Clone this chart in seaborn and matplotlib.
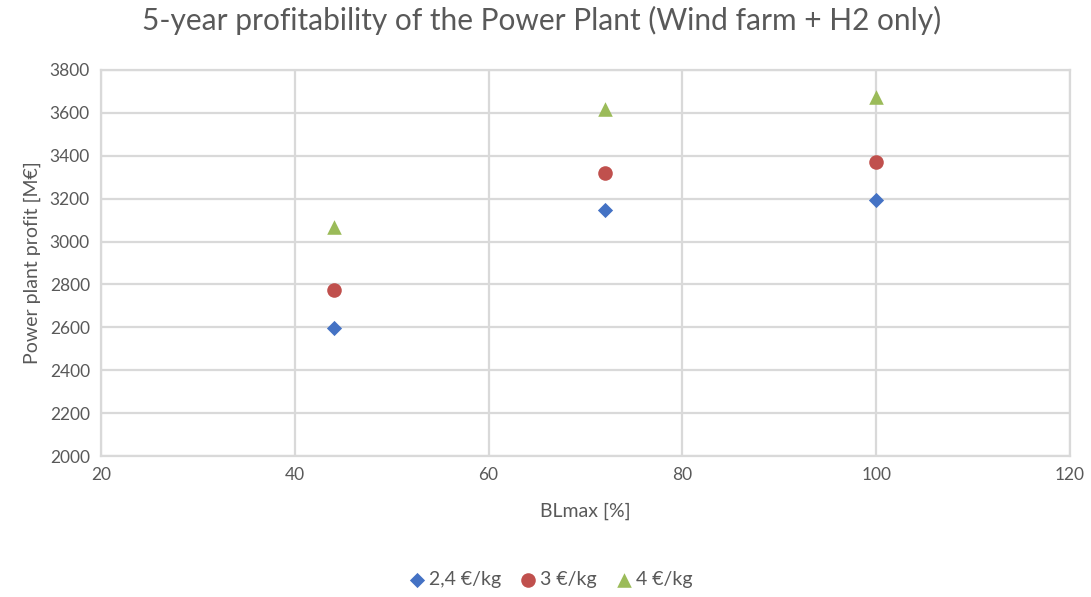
import matplotlib
matplotlib.use("Agg")
import matplotlib.pyplot as plt
import seaborn as sns
import pandas as pd

blmax = [44, 72, 100]
price_labels = ["2,4 €/kg", "3 €/kg", "4 €/kg"]
profit_24 = [2595, 3145, 3195]
profit_3 = [2775, 3320, 3370]
profit_4 = [3070, 3620, 3675]
x_ticks = [20, 40, 60, 80, 100, 120]
y_ticks = [2000, 2200, 2400, 2600, 2800, 3000, 3200, 3400, 3600, 3800]

rows = []
for lab, vals in zip(price_labels, [profit_24, profit_3, profit_4]):
    for x, v in zip(blmax, vals):
        rows.append({"BLmax": x, "profit": v, "price": lab})
df = pd.DataFrame(rows)

sns.set_theme(style="white")
plt.rcParams['font.family'] = ['Lato', 'DejaVu Sans']
text_col = "#595959"

fig = plt.figure(figsize=(10.91, 5.97), dpi=100)
ax = fig.add_axes([101/1091, 1-456/597, (1070-101)/1091, (456-70)/597])

palette = {"2,4 €/kg": "#4472C4", "3 €/kg": "#C0504D", "4 €/kg": "#9BBB59"}
markers = {"2,4 €/kg": "D", "3 €/kg": "o", "4 €/kg": "^"}
sizes_map = {"2,4 €/kg": 60, "3 €/kg": 110, "4 €/kg": 110}
for lab in price_labels:
    sub = df[df["price"] == lab]
    sns.scatterplot(data=sub, x="BLmax", y="profit", color=palette[lab],
                    marker=markers[lab], s=sizes_map[lab], linewidth=0,
                    ax=ax, label=lab, zorder=3)

ax.set_xlim(20, 120)
ax.set_ylim(2000, 3800)
ax.set_xticks(x_ticks)
ax.set_yticks(y_ticks)
ax.grid(True, color="#d9d9d9", linewidth=1.6)
for s in ax.spines.values():
    s.set_color("#d9d9d9")
    s.set_linewidth(1.6)
ax.tick_params(axis="both", length=0, labelsize=12.5, colors=text_col, pad=8)
ax.set_xlabel("BLmax [%]", fontsize=14, color=text_col, labelpad=14)
ax.set_ylabel("Power plant profit [M€]", fontsize=14, color=text_col, labelpad=6)

fig.suptitle("5-year profitability of the Power Plant (Wind farm + H2 only)",
             fontsize=21.5, color=text_col, y=0.99, x=0.496)

handles, labels = ax.get_legend_handles_labels()
ax.legend(handles, labels, loc="center", bbox_to_anchor=(547/1091, 1-580/597),
          bbox_transform=fig.transFigure, ncol=3, frameon=False, fontsize=14,
          handletextpad=-0.2, handlelength=1.6, columnspacing=0.6,
          labelcolor=text_col, markerscale=1.0)

fig.savefig("out.png", dpi=100)
